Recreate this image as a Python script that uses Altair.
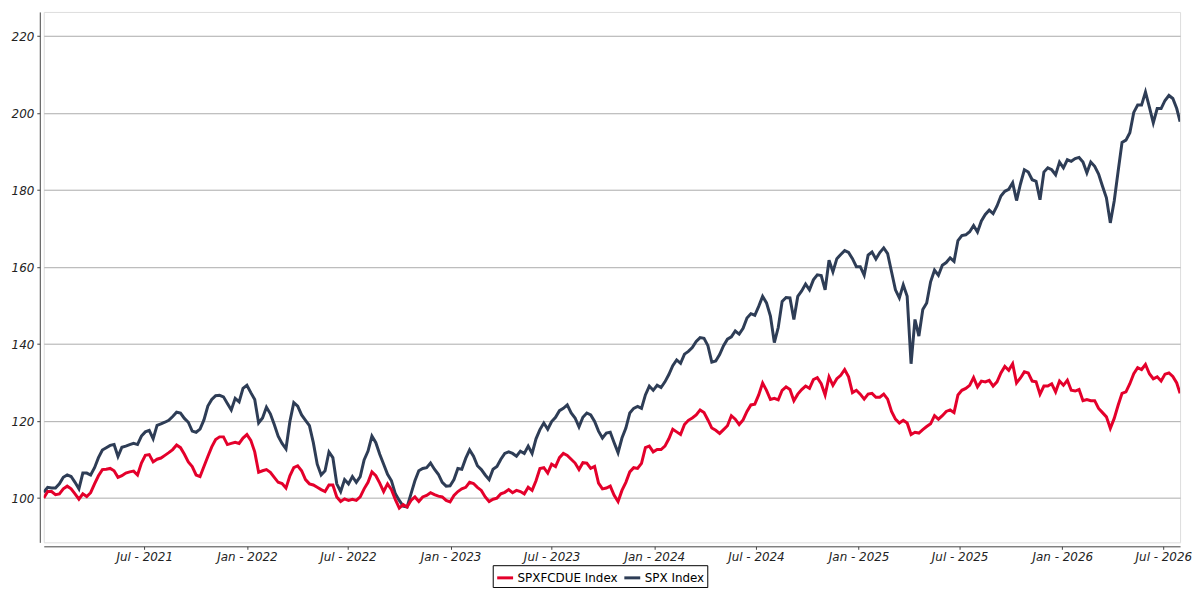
import altair as alt
import pandas as pd

# Weekly readings (every 7 days from 2021-01-02; last point 2026-07-31)
spx = [
    101.5, 102.8, 102.6, 102.6, 103.7, 105.4, 106.0, 105.6, 104.1, 102.4,
    106.5, 106.5, 106.0, 107.9, 110.5, 112.5, 113.1, 113.7, 113.9, 110.8,
    113.2, 113.5, 113.9, 114.2, 113.9, 116.1, 117.2, 117.6, 115.4, 118.9,
    119.3, 119.7, 120.2, 121.2, 122.3, 122.1, 120.7, 119.7, 117.4, 117.1,
    117.9, 120.3, 123.9, 125.6, 126.6, 126.7, 126.3, 124.6, 122.9, 125.9,
    125.0, 128.5, 129.3, 127.4, 125.6, 119.5, 120.8, 123.6, 121.9, 119.1,
    116.1, 114.2, 112.8, 119.9, 124.8, 123.9, 121.6, 120.2, 118.8, 114.4,
    108.8, 106.0, 107.1, 112.0, 110.5, 103.7, 101.7, 104.8, 103.7, 105.6,
    104.1, 105.6, 109.9, 112.2, 116.1, 114.4, 111.4, 108.8, 106.2, 104.5,
    101.1, 99.4, 97.9, 97.7, 101.1, 104.5, 107.1, 107.7, 107.9, 109.1,
    107.5, 106.2, 104.1, 103.1, 103.2, 104.8, 107.7, 107.5, 110.3, 112.5,
    110.9, 108.4, 107.4, 106.0, 104.8, 107.5, 108.2, 110.1, 111.6, 112.0,
    111.6, 110.9, 112.2, 111.6, 113.5, 111.6, 115.4, 117.8, 119.5, 117.9,
    119.9, 121.0, 122.7, 123.3, 124.2, 122.1, 120.8, 118.5, 121.0, 122.1,
    121.6, 119.9, 117.4, 115.6, 116.9, 117.1, 114.4, 111.8, 115.6, 118.2,
    122.1, 123.3, 123.8, 123.3, 126.8, 129.1, 128.0, 129.3, 128.7, 130.2,
    132.1, 134.4, 135.9, 135.0, 137.4, 138.1, 139.1, 140.7, 141.7, 141.5,
    139.6, 135.3, 135.6, 137.3, 139.6, 141.3, 141.9, 143.4, 142.6, 144.1,
    146.8, 147.9, 147.5, 149.8, 152.4, 150.7, 147.3, 140.4, 144.3, 151.1,
    152.1, 152.0, 146.4, 152.4, 153.8, 155.6, 154.1, 156.7, 158.0, 157.8,
    154.1, 161.8, 158.8, 162.2, 163.3, 164.3, 163.8, 162.2, 160.1, 160.1,
    157.9, 163.1, 163.9, 162.1, 163.8, 165.0, 163.5, 158.8, 154.1, 152.0,
    155.4, 152.4, 134.9, 146.4, 142.1, 149.0, 150.7, 156.2, 159.2, 157.9,
    160.5, 161.2, 162.4, 161.5, 166.9, 168.2, 168.4, 169.2, 170.8, 169.1,
    172.0, 173.7, 174.8, 173.9, 175.9, 178.5, 179.7, 180.2, 181.9, 177.3,
    181.6, 185.3, 184.7, 182.7, 182.3, 177.5, 184.7, 185.8, 185.3, 184.0,
    187.3, 185.8, 187.9, 187.5, 188.2, 188.5, 187.3, 184.5, 187.3, 186.2,
    184.2, 181.0, 178.0, 171.5, 177.2, 184.9, 192.4, 193.0, 194.9, 200.2,
    202.1, 202.1, 205.5, 201.6, 197.5, 201.2, 201.2, 203.3, 204.6, 203.8,
    201.2, 197.8,
]

spxfcdue = [
    100.0, 101.7, 101.7, 100.9, 101.1, 102.4, 103.1, 102.4, 101.1, 99.7,
    101.1, 100.4, 101.4, 103.7, 105.8, 107.4, 107.5, 107.7, 107.1, 105.4,
    105.8, 106.5, 106.8, 107.0, 106.0, 109.1, 111.1, 111.3, 109.4, 110.1,
    110.4, 111.1, 111.8, 112.6, 113.8, 113.1, 111.4, 109.4, 108.2, 106.0,
    105.6, 108.2, 110.8, 113.3, 115.2, 115.9, 115.9, 113.9, 114.2, 114.5,
    114.2, 115.6, 116.5, 115.0, 112.0, 106.7, 107.1, 107.4, 106.7, 105.4,
    104.1, 103.8, 102.6, 105.8, 107.9, 108.4, 107.1, 104.8, 103.7, 103.4,
    102.8, 102.2, 101.7, 103.4, 103.4, 100.3, 99.1, 99.8, 99.4, 99.7,
    99.4, 100.3, 102.4, 104.1, 106.8, 105.8, 103.9, 101.7, 103.7, 102.2,
    99.6, 97.4, 98.3, 97.7, 99.4, 100.3, 99.1, 100.3, 100.7, 101.4,
    100.9, 100.5, 100.3, 99.4, 99.0, 100.7, 101.7, 102.4, 102.8, 104.1,
    103.8, 102.8, 102.0, 100.3, 99.1, 99.7, 100.0, 101.1, 101.5, 102.2,
    101.4, 102.0, 101.7, 101.1, 102.8, 102.0, 104.5, 107.7, 107.9, 106.5,
    108.8, 108.2, 110.5, 111.6, 111.1, 110.1, 109.1, 107.4, 109.2, 109.1,
    107.7, 108.2, 103.9, 102.4, 102.6, 103.1, 100.7, 99.1, 102.0, 104.1,
    106.8, 107.9, 107.7, 109.0, 113.1, 113.5, 112.0, 112.6, 112.6, 113.5,
    115.4, 117.9, 117.2, 116.5, 119.1, 120.2, 120.8, 121.6, 122.9, 122.2,
    120.3, 118.2, 117.6, 116.8, 117.8, 118.8, 121.4, 120.5, 119.1, 120.3,
    122.5, 124.2, 124.4, 126.8, 129.9, 128.0, 125.6, 125.9, 125.5, 128.0,
    128.9, 128.2, 125.3, 127.0, 128.2, 129.1, 128.5, 130.8, 131.3, 129.7,
    126.8, 131.5, 129.3, 131.0, 131.9, 133.4, 131.5, 127.4, 128.0, 127.0,
    125.7, 127.0, 127.2, 126.2, 126.2, 127.0, 125.7, 122.5, 120.5, 119.5,
    120.2, 119.5, 116.5, 117.1, 116.9, 117.8, 118.6, 119.3, 121.4, 120.5,
    121.4, 122.5, 122.9, 122.2, 126.8, 128.0, 128.5, 129.3, 131.3, 128.9,
    130.4, 130.2, 130.6, 129.1, 130.2, 132.5, 134.2, 133.2, 134.9, 129.9,
    131.2, 132.8, 132.5, 130.4, 130.2, 127.0, 129.1, 129.1, 129.7, 127.6,
    130.4, 129.3, 130.6, 128.0, 127.8, 128.2, 125.3, 125.6, 125.3, 125.3,
    123.3, 122.2, 121.1, 118.1, 120.7, 124.1, 127.2, 127.6, 129.7, 132.3,
    133.9, 133.4, 134.7, 132.3, 131.0, 131.5, 130.4, 132.2, 132.5, 131.6,
    129.9, 127.2,
]

dates = list(pd.date_range("2021-01-02", periods=291, freq="7D").strftime("%Y-%m-%d")) + ["2026-07-31"]

series_names = ["SPXFCDUE Index", "SPX Index"]
series_colors = ["#E4002B", "#2E3D56"]
y_ticks = [100, 120, 140, 160, 180, 200, 220]

rows = []
for d, v in zip(dates, spx):
    rows.append({"date": d, "value": v, "series": "SPX Index"})
for d, v in zip(dates, spxfcdue):
    rows.append({"date": d, "value": v, "series": "SPXFCDUE Index"})
df = pd.DataFrame(rows)

x_tick_values = []
for yr in range(2021, 2027):
    for mo in (1, 7):
        if (yr, mo) != (2021, 1):
            x_tick_values.append(alt.DateTime(year=yr, month=mo, date=1))

chart = alt.Chart(df).mark_line(strokeWidth=3, clip=True).encode(
    x=alt.X(
        "date:T",
        scale=alt.Scale(domain=[alt.DateTime(year=2021, month=1, date=2),
                                alt.DateTime(year=2026, month=7, date=31)], nice=False),
        axis=alt.Axis(
            values=x_tick_values, format="%b - %Y", title=None, grid=False,
            offset=4, tickSize=3, labelPadding=2, labelFlush=False,
            labelFont="DejaVu Sans", labelFontStyle="italic", labelFontSize=12,
            labelColor="#222222", domainColor="#444444", tickColor="#444444",
            labelOverlap=False,
        ),
    ),
    y=alt.Y(
        "value:Q",
        scale=alt.Scale(domain=[88.5, 226.3], nice=False, zero=False),
        axis=alt.Axis(
            values=y_ticks, title=None, grid=True, gridColor="#ababab", gridWidth=1,
            offset=4, tickSize=3, labelPadding=3,
            labelFont="DejaVu Sans", labelFontStyle="italic", labelFontSize=12,
            labelColor="#222222", domainColor="#444444", tickColor="#444444",
        ),
    ),
    color=alt.Color(
        "series:N",
        scale=alt.Scale(domain=series_names, range=series_colors),
        legend=alt.Legend(
            orient="none", legendX=452, legendY=557, direction="horizontal",
            title=None, symbolType="stroke", symbolSize=256, symbolStrokeWidth=3,
            strokeColor="black", padding=3, labelOffset=3, columnPadding=0,
            labelFont="DejaVu Sans", labelFontSize=12, labelColor="#000000",
        ),
    ),
    order=alt.Order("series:N", sort="ascending"),
).properties(
    width=1144,
    height=534,
    autosize=alt.AutoSizeParams(type="none"),
    padding={"left": 36, "top": 2, "right": 12, "bottom": 44},
).configure_view(
    stroke="#444444", strokeWidth=1
).configure(background="white")

chart.save("out.html", embed_options={"renderer": "svg", "actions": False})
